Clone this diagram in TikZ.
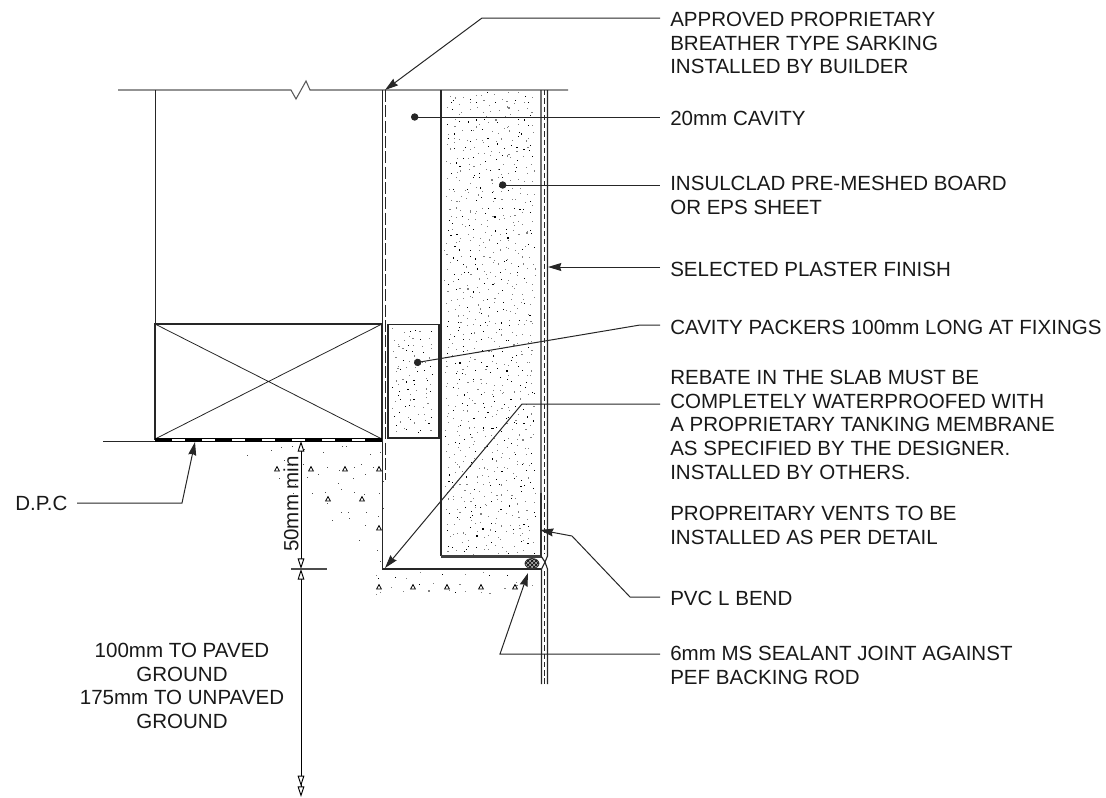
\documentclass[tikz,border=0pt]{standalone}
\usepackage{fontspec}
\setmainfont{Liberation Sans}
\usetikzlibrary{arrows.meta,patterns}
\tikzset{
  lab/.style={anchor=north west,inner sep=0pt,align=left,text=black!90,font=\fontsize{15.4}{17.75}\selectfont},
  labc/.style={inner sep=0pt,align=center,text=black!90,font=\fontsize{15.4}{17.75}\selectfont},
  thin line/.style={line width=0.6pt,draw=black!85},
  med line/.style={line width=0.85pt,draw=black!85},
  leader/.style={line width=0.75pt,draw=black!85},
  leadarrow/.style={leader,-{Stealth[length=10pt,width=6pt,inset=1pt]}},
  leaddot/.style={leader,{Circle[length=5.5pt,width=5.5pt]}-},
  dimtip/.tip={Triangle[open,length=8pt,width=5pt,fill=white]},
  dimarrow/.style={line width=0.7pt,draw=black,dimtip-dimtip},
  dimarrowdbl/.style={line width=0.7pt,draw=black,dimtip-{dimtip[sep=0pt]dimtip}},
  dashline/.style={line width=0.95pt,draw=black!85,dash pattern=on 9pt off 2.5pt},
  plasterdash/.style={line width=0.7pt,draw=black!85,dash pattern=on 4pt off 2.2pt},
}
% jittered-grid stipple: x0, y0, x1, y1, cell
\newcommand{\stipple}[5]{%
  \pgfmathsetmacro{\xnext}{#1+#5}%
  \pgfmathsetmacro{\ynext}{#2+#5}%
  \foreach \gx in {#1,\xnext,...,#3}{%
    \foreach \gy in {#2,\ynext,...,#4}{%
      \pgfmathsetmacro{\sx}{\gx+rnd*#5}%
      \pgfmathsetmacro{\sy}{\gy+rnd*#5}%
      \pgfmathsetmacro{\sc}{rnd}%
      \pgfmathtruncatemacro{\sd}{\sc<0.35 ? 1 : 0}%
      \ifnum\sd=1 \fill[black] (\sx,\sy) rectangle ++(1.1,1.1);\else \fill[black!50] (\sx,\sy) rectangle ++(1.1,1.1);\fi
    }}}
\newcommand{\aggr}[2]{\draw[line width=0.6pt,draw=black] (#1-2.4,#2+2) -- (#1,#2-2.4) -- (#1+2.4,#2+2) -- cycle;}
\begin{document}
\begin{tikzpicture}[x=0.75pt,y=-0.75pt]
\useasboundingbox (0,0) rectangle (1106,797);
\pgfmathsetseed{4217}
% ---- stipple in board and packer
\stipple{444}{92}{532}{548}{7}
\stipple{391}{327}{430}{430}{7}
% ---- stipple in concrete: triangular wedge and lower band
\foreach \gx in {218,232,...,372}{%
  \foreach \gy in {445,459,...,560}{%
    \pgfmathsetmacro{\sx}{\gx+rnd*12}%
    \pgfmathsetmacro{\sy}{\gy+rnd*12}%
    \pgfmathtruncatemacro{\keep}{(\sy-447)<(\sx-235)*0.8 ? 1 : 0}%
    \ifnum\keep=1 \fill[black!70] (\sx,\sy) rectangle ++(1,1);\fi
  }}
\stipple{366}{572}{530}{582}{12}
\foreach \ax/\ay in {277/469,311/469,345/469,379/469,328/499,362/499,379/528,379/587,413/587,447/587,481/587,515/587}{\aggr{\ax}{\ay}}

% ---- named points
\coordinate (wallTL) at (155,90);
\coordinate (boxTL) at (155,324);
\coordinate (boxBR) at (382,439);

% ---- top break line
\draw[line width=0.8pt,draw=black!65] (118,90) -- (291,90) -- (296,99) -- (306,81) -- (310,90) -- (568,90);
% wall and timber plate
\draw[thin line] (wallTL) -- (boxTL);
\draw[med line] (boxTL) rectangle (boxBR);
\draw[thin line] (155,324) -- (382,439) (382,324) -- (155,439);
% ground line and DPC
\draw[thin line] (103,441.5) -- (382,441.5);
\draw[line width=2.4pt,draw=black] (155,440) -- (382,440);
\draw[line width=1pt,draw=white,dash pattern=on 9.75pt off 12.75pt] (172,440) -- (382,440);
% sarking & rebate
\draw[med line] (382.5,90) -- (382.5,569) -- (541,569);
\draw[dashline] (385.5,90) -- (385.5,480);
% cavity packer
\draw[med line] (388,324.5) rectangle (439,438);
% insulation board
\draw[med line] (441,90) -- (441,556);
\draw[line width=2.3pt,draw=black!75] (440.5,556.5) -- (541.5,556.5);
% PVC L bend upstand
\draw[line width=2.2pt,draw=black!75] (541,493) -- (541,557);
% plaster
\draw[med line] (541,90) -- (541,556) -- (545,562) -- (541.5,569) -- (541.5,684);
\draw[med line] (547.5,90) -- (547.5,556) -- (545,562) -- (547.5,569) -- (547.5,684);
\draw[plasterdash] (544.7,90) -- (544.7,554);
\draw[plasterdash] (544.7,571) -- (544.7,684);
% backing rod
\fill[black!35] (532,563.5) ellipse (7 and 5);
\fill[pattern=crosshatch,pattern color=black] (532,563.5) ellipse (7 and 5);
\draw[line width=0.6pt,draw=black!80] (532,563.5) ellipse (7 and 5);

% ---- labels
\node[lab] (tSark) at (670,12) {APPROVED PROPRIETARY\\BREATHER TYPE SARKING\\INSTALLED BY BUILDER};
\node[lab] (tCav) at (670,111) {20mm CAVITY};
\node[lab] (tIns) at (670,176) {INSULCLAD PRE-MESHED BOARD\\OR EPS SHEET};
\node[lab] (tPla) at (670,262) {SELECTED PLASTER FINISH};
\node[lab] (tPack) at (670,320) {CAVITY PACKERS 100mm LONG AT FIXINGS};
\node[lab] (tReb) at (670,370) {REBATE IN THE SLAB MUST BE\\COMPLETELY WATERPROOFED WITH\\A PROPRIETARY TANKING MEMBRANE\\AS SPECIFIED BY THE DESIGNER.\\INSTALLED BY OTHERS.};
\node[lab] (tVent) at (670,506) {PROPREITARY VENTS TO BE\\INSTALLED AS PER DETAIL};
\node[lab] (tPvc) at (670,591) {PVC L BEND};
\node[lab] (tSeal) at (670,646) {6mm MS SEALANT JOINT AGAINST\\PEF BACKING ROD};
\node[lab,anchor=west] (tDpc) at (15,503) {D.P.C};
\node[labc] (tGround) at (182,686) {100mm TO PAVED\\GROUND\\175mm TO UNPAVED\\GROUND};
\node[labc,rotate=90] (tFifty) at (291,504) {50mm min};

% ---- leader anchors
\coordinate (aSark) at (385,90);
\coordinate (eSark) at (660,18);
\coordinate (dCav) at (411,117);
\coordinate (eCav) at (660,117);
\coordinate (dIns) at (499,185);
\coordinate (eIns) at (660,185);
\coordinate (aPla) at (548,267);
\coordinate (ePla) at (660,267);
\coordinate (dPack) at (414,363);
\coordinate (ePack) at (660,325);
\coordinate (aReb) at (385,568);
\coordinate (eReb) at (660,404);
\coordinate (aPvc) at (540,530);
\coordinate (ePvc) at (660,597);
\coordinate (aSeal) at (528,573);
\coordinate (eSeal) at (660,654);
\coordinate (aDpc) at (195,442);
\coordinate (eDpc) at (77,503);
\coordinate (dTop) at (301,441);
\coordinate (dMid) at (301,569);
\coordinate (dBot) at (301,797);

% ---- leaders
\draw[leadarrow] (eSark) -- (482,18) -- (aSark);
\draw[leaddot] (dCav) -- (eCav);
\draw[leaddot] (dIns) -- (eIns);
\draw[leadarrow] (ePla) -- (aPla);
\draw[leaddot] (dPack) -- (640,325) -- (ePack);
\draw[leadarrow] (eReb) -- (522,404) -- (aReb);
\draw[leadarrow] (ePvc) -- (630,597) -- (572,536) -- (aPvc);
\draw[leadarrow] (eSeal) -- (500,654) -- (aSeal);
\draw[leadarrow] (eDpc) -- (182,503) -- (aDpc);

% ---- dimensions
\draw[dimarrow] (dTop) -- (dMid);
\draw[dimarrowdbl] (dMid) -- (dBot);
\draw[line width=0.8pt,draw=black!70] (291,569) -- (327,569);
\end{tikzpicture}
\end{document}
